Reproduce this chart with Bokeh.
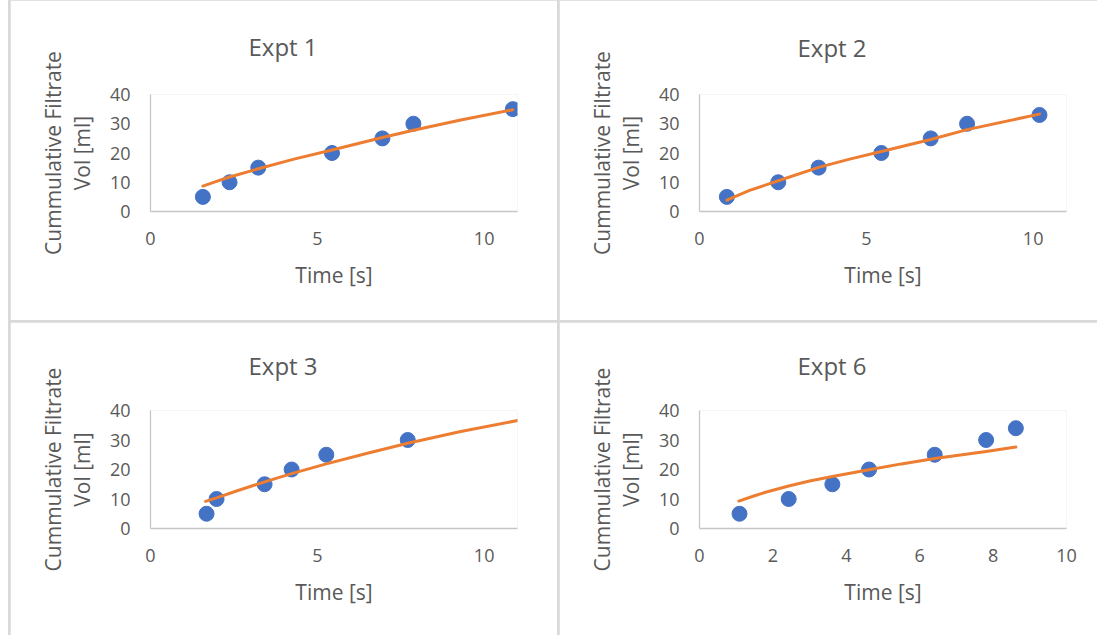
from bokeh.plotting import figure
from bokeh.layouts import row, column
from bokeh.models import Spacer, Range1d, FixedTicker
from bokeh.embed import file_html
from bokeh.resources import INLINE

# ---------------- data ----------------
titles = ["Expt 1", "Expt 2", "Expt 3", "Expt 6"]
x_label = "Time [s]"
y_label = "Cummulative Filtrate\nVol [ml]"

# Expt 1
t1 = [1.57, 2.37, 3.23, 5.44, 6.95, 7.88, 10.86]
v1 = [5, 10, 15, 20, 25, 30, 35]
fit1_t = [1.57, 2.0, 2.37, 3.23, 4.3, 5.44, 6.95, 7.88, 9.3, 10.86]
fit1_v = [8.7, 10.4, 11.8, 14.6, 17.9, 21.0, 25.3, 27.8, 31.3, 34.8]

# Expt 2
t2 = [0.82, 2.36, 3.57, 5.45, 6.93, 8.02, 10.19]
v2 = [5, 10, 15, 20, 25, 30, 33]
fit2_t = [0.82, 1.5, 2.36, 3.57, 4.5, 5.45, 6.93, 8.02, 10.19]
fit2_v = [3.9, 7.2, 10.5, 15.1, 17.9, 20.5, 24.6, 28.0, 33.3]

# Expt 3
t3 = [1.68, 1.98, 3.42, 4.23, 5.27, 7.71]
v3 = [5, 10, 15, 20, 25, 30]
fit3_t = [1.65, 1.98, 2.6, 3.42, 4.23, 5.27, 6.5, 7.71, 9.3, 11.0]
fit3_v = [9.2, 10.4, 12.8, 15.8, 18.6, 21.9, 25.5, 28.9, 32.9, 36.6]

# Expt 6
t6 = [1.09, 2.43, 3.62, 4.62, 6.41, 7.81, 8.62]
v6 = [5, 10, 15, 20, 25, 30, 34]
fit6_t = [1.07, 1.5, 1.8, 2.43, 3.0, 3.62, 4.62, 5.5, 6.41, 7.81, 8.62]
fit6_v = [9.3, 11.1, 12.3, 14.4, 16.1, 17.6, 19.9, 21.9, 23.7, 26.1, 27.6]

x_ticks_a = [0, 5, 10]
x_ticks_b = [0, 2, 4, 6, 8, 10]
y_ticks = [0, 10, 20, 30, 40]

# ---------------- style ----------------
FONT = "Open Sans"
TXT = "#595959"
AXIS = "#c6c6c6"
BLUE = "#4472C4"
ORANGE = "#ED7D31"
DIVIDER = "#d9d9d9"


def make_panel(title, t, v, ft, fv, xmax, xticks, w, h, top, bottom, right):
    p = figure(width=w, height=h, output_backend="svg", toolbar_location=None,
               x_range=Range1d(0, xmax), y_range=Range1d(0, 40),
               min_border_left=140, min_border_right=right,
               min_border_top=top, min_border_bottom=bottom)
    p.background_fill_color = "white"
    p.border_fill_color = "white"
    p.outline_line_color = None
    p.xgrid.visible = False
    p.ygrid.visible = False

    p.title.text = title
    p.title.text_font = FONT
    p.title.text_font_size = "24px"
    p.title.text_font_style = "normal"
    p.title.text_color = TXT
    p.title.align = "left"
    p.title.offset = 98
    p.title.vertical_align = "top"
    p.title.standoff = top - 35

    p.xaxis.ticker = FixedTicker(ticks=xticks)
    p.yaxis.ticker = FixedTicker(ticks=y_ticks)
    for ax in (p.xaxis, p.yaxis):
        ax.axis_line_color = AXIS
        ax.axis_line_width = 1.3
        ax.major_tick_line_color = None
        ax.minor_tick_line_color = None
        ax.major_tick_out = 0
        ax.major_tick_in = 0
        ax.major_label_text_font = FONT
        ax.major_label_text_font_size = "18px"
        ax.major_label_text_color = TXT
        ax.axis_label_text_font = FONT
        ax.axis_label_text_font_size = "21px"
        ax.axis_label_text_font_style = "normal"
        ax.axis_label_text_color = TXT

    p.xaxis.axis_label = x_label
    p.xaxis.major_label_standoff = 20
    p.xaxis.axis_label_standoff = 13
    p.yaxis.axis_label = y_label
    p.yaxis.major_label_standoff = 20
    p.yaxis.axis_label_standoff = 11
    p.yaxis.axis_label_text_line_height = 1.05

    p.scatter(t, v, size=15, color=BLUE)
    p.line(ft, fv, line_width=3, color=ORANGE, line_cap="round", line_join="round")
    return p


f1 = make_panel(titles[0], t1, v1, fit1_t, fit1_v, 11, x_ticks_a, 547, 320, 94, 108, 40)
f2 = make_panel(titles[1], t2, v2, fit2_t, fit2_v, 11, x_ticks_a, 538, 320, 92, 109, 31)
f3 = make_panel(titles[2], t3, v3, fit3_t, fit3_v, 11, x_ticks_a, 547, 313, 88, 107, 40)
f4 = make_panel(titles[3], t6, v6, fit6_t, fit6_v, 10, x_ticks_b, 538, 313, 88, 107, 31)

grid = column(row(f1, f2, spacing=2), row(f3, f4, spacing=2), spacing=2)
framed = row(Spacer(width=2), grid, styles={"background-color": DIVIDER})
page = row(Spacer(width=8), framed)

open("out.html", "w").write(file_html(page, INLINE))
